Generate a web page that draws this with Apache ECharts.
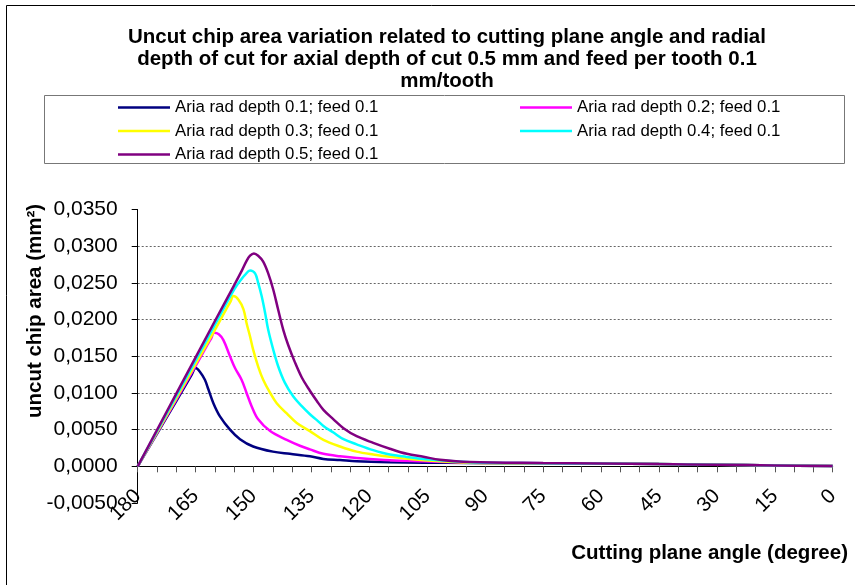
<!DOCTYPE html>
<html>
<head>
<meta charset="utf-8">
<script src="https://cdn.jsdelivr.net/npm/echarts@6/dist/echarts.min.js"></script>
<style>
html,body{margin:0;padding:0;background:#fff;}
#chart{width:855px;height:585px;}
</style>
</head>
<body>
<div id="chart"></div>
<script>
const seriesNames = [
  'Aria rad depth 0.1; feed 0.1',
  'Aria rad depth 0.2; feed 0.1',
  'Aria rad depth 0.3; feed 0.1',
  'Aria rad depth 0.4; feed 0.1',
  'Aria rad depth 0.5; feed 0.1'
];
const seriesColors = ['#000080', '#FF00FF', '#FFFF00', '#00FFFF', '#800080'];

const angle01 = [180, 170, 166, 165, 163.9, 162.6, 161.7, 160.4, 158.7, 156.1, 153.5, 150.1, 145, 140.6, 135.4, 131.9, 127.6, 123.3, 114.7, 106, 94, 75, 60, 45, 30, 15, 0];
const value01 = [0, 0.0089, 0.0125, 0.0134, 0.0129, 0.0118, 0.0105, 0.0086, 0.0068, 0.0050, 0.0037, 0.0027, 0.0020, 0.0017, 0.00136, 0.0010, 0.00085, 0.00068, 0.00055, 0.0005, 0.00046, 0.0004, 0.00037, 0.0003, 0.00022, 0.00012, 0.00003];

const angle02 = [180, 170, 165, 162, 161, 160.2, 159, 157.8, 156.1, 154.8, 153.1, 151.8, 150.5, 148.8, 145.7, 141.4, 138, 135.4, 131.9, 127.6, 123.3, 114.7, 106, 94, 75, 60, 45, 30, 15, 0];
const value02 = [0, 0.0091, 0.0137, 0.0165, 0.0174, 0.0182, 0.0180, 0.0172, 0.0150, 0.0134, 0.0118, 0.0100, 0.0082, 0.0064, 0.0048, 0.0036, 0.0028, 0.0023, 0.0017, 0.00136, 0.00114, 0.00082, 0.00068, 0.0005, 0.00042, 0.00038, 0.0003, 0.00022, 0.00012, 0.00003];

const angle03 = [180, 170, 160, 157, 156, 155.2, 153.9, 152.6, 151.8, 150.9, 150.1, 148.8, 147.5, 145.7, 144, 141.4, 138.8, 135.4, 131.9, 127.6, 123.3, 119, 114.7, 106, 94, 75, 60, 45, 30, 15, 0];
const value03 = [0, 0.0093, 0.0186, 0.0215, 0.0224, 0.0232, 0.0227, 0.0214, 0.0195, 0.0177, 0.0159, 0.0136, 0.0118, 0.0100, 0.0086, 0.0072, 0.0059, 0.0048, 0.0036, 0.0027, 0.0020, 0.0016, 0.0013, 0.00082, 0.0005, 0.00042, 0.00038, 0.0003, 0.00022, 0.00012, 0.00003];

const angle04 = [180, 170, 160, 155, 153, 152.2, 150.9, 149.6, 148.8, 147.9, 147, 146.2, 144.9, 143.6, 141.9, 139.7, 137.5, 135.4, 133.6, 131.9, 129.3, 126.7, 123.3, 119, 114.7, 110.3, 106, 94, 75, 60, 45, 30, 15, 0];
const value04 = [0, 0.0096, 0.0193, 0.0241, 0.0256, 0.0261, 0.0267, 0.0263, 0.0250, 0.0232, 0.0209, 0.0186, 0.0159, 0.0136, 0.0114, 0.0095, 0.0082, 0.0071, 0.0063, 0.0055, 0.0046, 0.0037, 0.0030, 0.0022, 0.0016, 0.00128, 0.0010, 0.00055, 0.00042, 0.00038, 0.0003, 0.00022, 0.00012, 0.00003];

const angle05 = [180, 170, 160, 155, 153, 151.8, 150.9, 149.9, 148.8, 147.5, 146.2, 144.9, 143.6, 142.3, 141, 139.3, 137.5, 135.4, 133.6, 131.9, 129.3, 126.7, 123.3, 119, 114.7, 110.3, 106, 101.7, 94, 75, 60, 45, 30, 15, 0];
const value05 = [0, 0.0099, 0.0198, 0.0247, 0.0267, 0.0280, 0.0287, 0.0290, 0.0287, 0.0279, 0.0263, 0.0241, 0.0213, 0.0186, 0.0165, 0.0142, 0.0121, 0.0103, 0.0089, 0.0077, 0.0064, 0.0052, 0.0041, 0.0032, 0.0024, 0.0017, 0.0013, 0.0009, 0.00058, 0.00045, 0.0004, 0.0003, 0.00022, 0.00012, 0.00003];

const titleText = 'Uncut chip area variation related to cutting plane angle and radial\ndepth of cut for axial depth of cut 0.5 mm and feed per tooth 0.1\nmm/tooth';
const xAxisTitle = 'Cutting plane angle (degree)';
const yAxisTitle = 'uncut chip area (mm\u00B2)';

const FONT = '"Liberation Sans", Arial, sans-serif';
const angleSets = [angle01, angle02, angle03, angle04, angle05];
const valueSets = [value01, value02, value03, value04, value05];

const series = seriesNames.map((name, i) => ({
  name: name,
  type: 'line',
  data: angleSets[i].map((a, k) => [a, valueSets[i][k]]),
  showSymbol: false,
  symbol: 'none',
  smooth: 0.35,
  z: 3,
  lineStyle: { color: seriesColors[i], width: 2.5 },
  itemStyle: { color: seriesColors[i] }
}));

// grid line colours per y tick: -0.005, 0, 0.005 ... 0.030, 0.035
const gridLineColors = ['rgba(0,0,0,0)', 'rgba(0,0,0,0)', '#666', '#666', '#666', '#666', '#666', '#666', 'rgba(0,0,0,0)'];

const chart = echarts.init(document.getElementById('chart'), null, { renderer: 'canvas' });
chart.setOption({
  animation: false,
  backgroundColor: '#fff',
  title: {
    text: titleText,
    left: 442,
    top: 21,
    textAlign: 'center',
    textStyle: { fontFamily: FONT, fontSize: 20.5, fontWeight: 'bold', lineHeight: 22, color: '#000' }
  },
  legend: [
    {
      data: [seriesNames[0], seriesNames[2], seriesNames[4]],
      orient: 'vertical',
      left: 118,
      top: 99,
      padding: 0,
      itemGap: 6.5,
      itemWidth: 52,
      itemHeight: 2.5,
      icon: 'rect',
      textStyle: { fontFamily: FONT, fontSize: 16.8, lineHeight: 16, color: '#000' },
      selectedMode: false
    },
    {
      data: [seriesNames[1], seriesNames[3]],
      orient: 'vertical',
      left: 520,
      top: 99,
      padding: 0,
      itemGap: 6.5,
      itemWidth: 52,
      itemHeight: 2.5,
      icon: 'rect',
      textStyle: { fontFamily: FONT, fontSize: 16.8, lineHeight: 16, color: '#000' },
      selectedMode: false
    }
  ],
  grid: { left: 137.7, right: 22.3, top: 209.5, bottom: 82, containLabel: false },
  xAxis: {
    type: 'value',
    min: 0,
    max: 180,
    interval: 15,
    inverse: true,
    axisLine: { onZero: true, lineStyle: { color: '#000', width: 1 } },
    axisTick: { show: true, length: 6, lineStyle: { color: '#555' } },
    minorTick: { show: true, splitNumber: 3, length: 6, lineStyle: { color: '#555' } },
    splitLine: { show: false },
    axisLabel: { rotate: 45, margin: -10, fontFamily: FONT, fontSize: 20.5, color: '#000' }
  },
  yAxis: {
    type: 'value',
    min: -0.005,
    max: 0.035,
    interval: 0.005,
    axisLine: { show: true, onZero: false, lineStyle: { color: '#000', width: 1 } },
    axisTick: { show: true, length: 6, lineStyle: { color: '#000' } },
    splitLine: { show: true, lineStyle: { color: gridLineColors, type: [2, 2], width: 1 } },
    axisLabel: {
      margin: 20,
      fontFamily: FONT,
      fontSize: 21,
      color: '#000',
      formatter: v => v.toFixed(4).replace('.', ',')
    }
  },
  graphic: [
    { type: 'rect', shape: { x: 6.5, y: 5.5, width: 900, height: 700 }, style: { fill: 'none', stroke: '#000', lineWidth: 1 }, silent: true },
    { type: 'rect', shape: { x: 44.5, y: 95.5, width: 800, height: 68 }, style: { fill: 'none', stroke: '#777', lineWidth: 1 }, silent: true },
    { type: 'text', x: 848, y: 553, style: { text: xAxisTitle, font: 'bold 20.5px ' + FONT, fill: '#000', textAlign: 'right', textVerticalAlign: 'middle' }, silent: true },
    { type: 'text', x: 35, y: 311, rotation: Math.PI / 2, style: { text: yAxisTitle, font: 'bold 20.5px ' + FONT, fill: '#000', textAlign: 'center', textVerticalAlign: 'middle' }, silent: true }
  ],
  series: series
});
</script>
</body>
</html>
